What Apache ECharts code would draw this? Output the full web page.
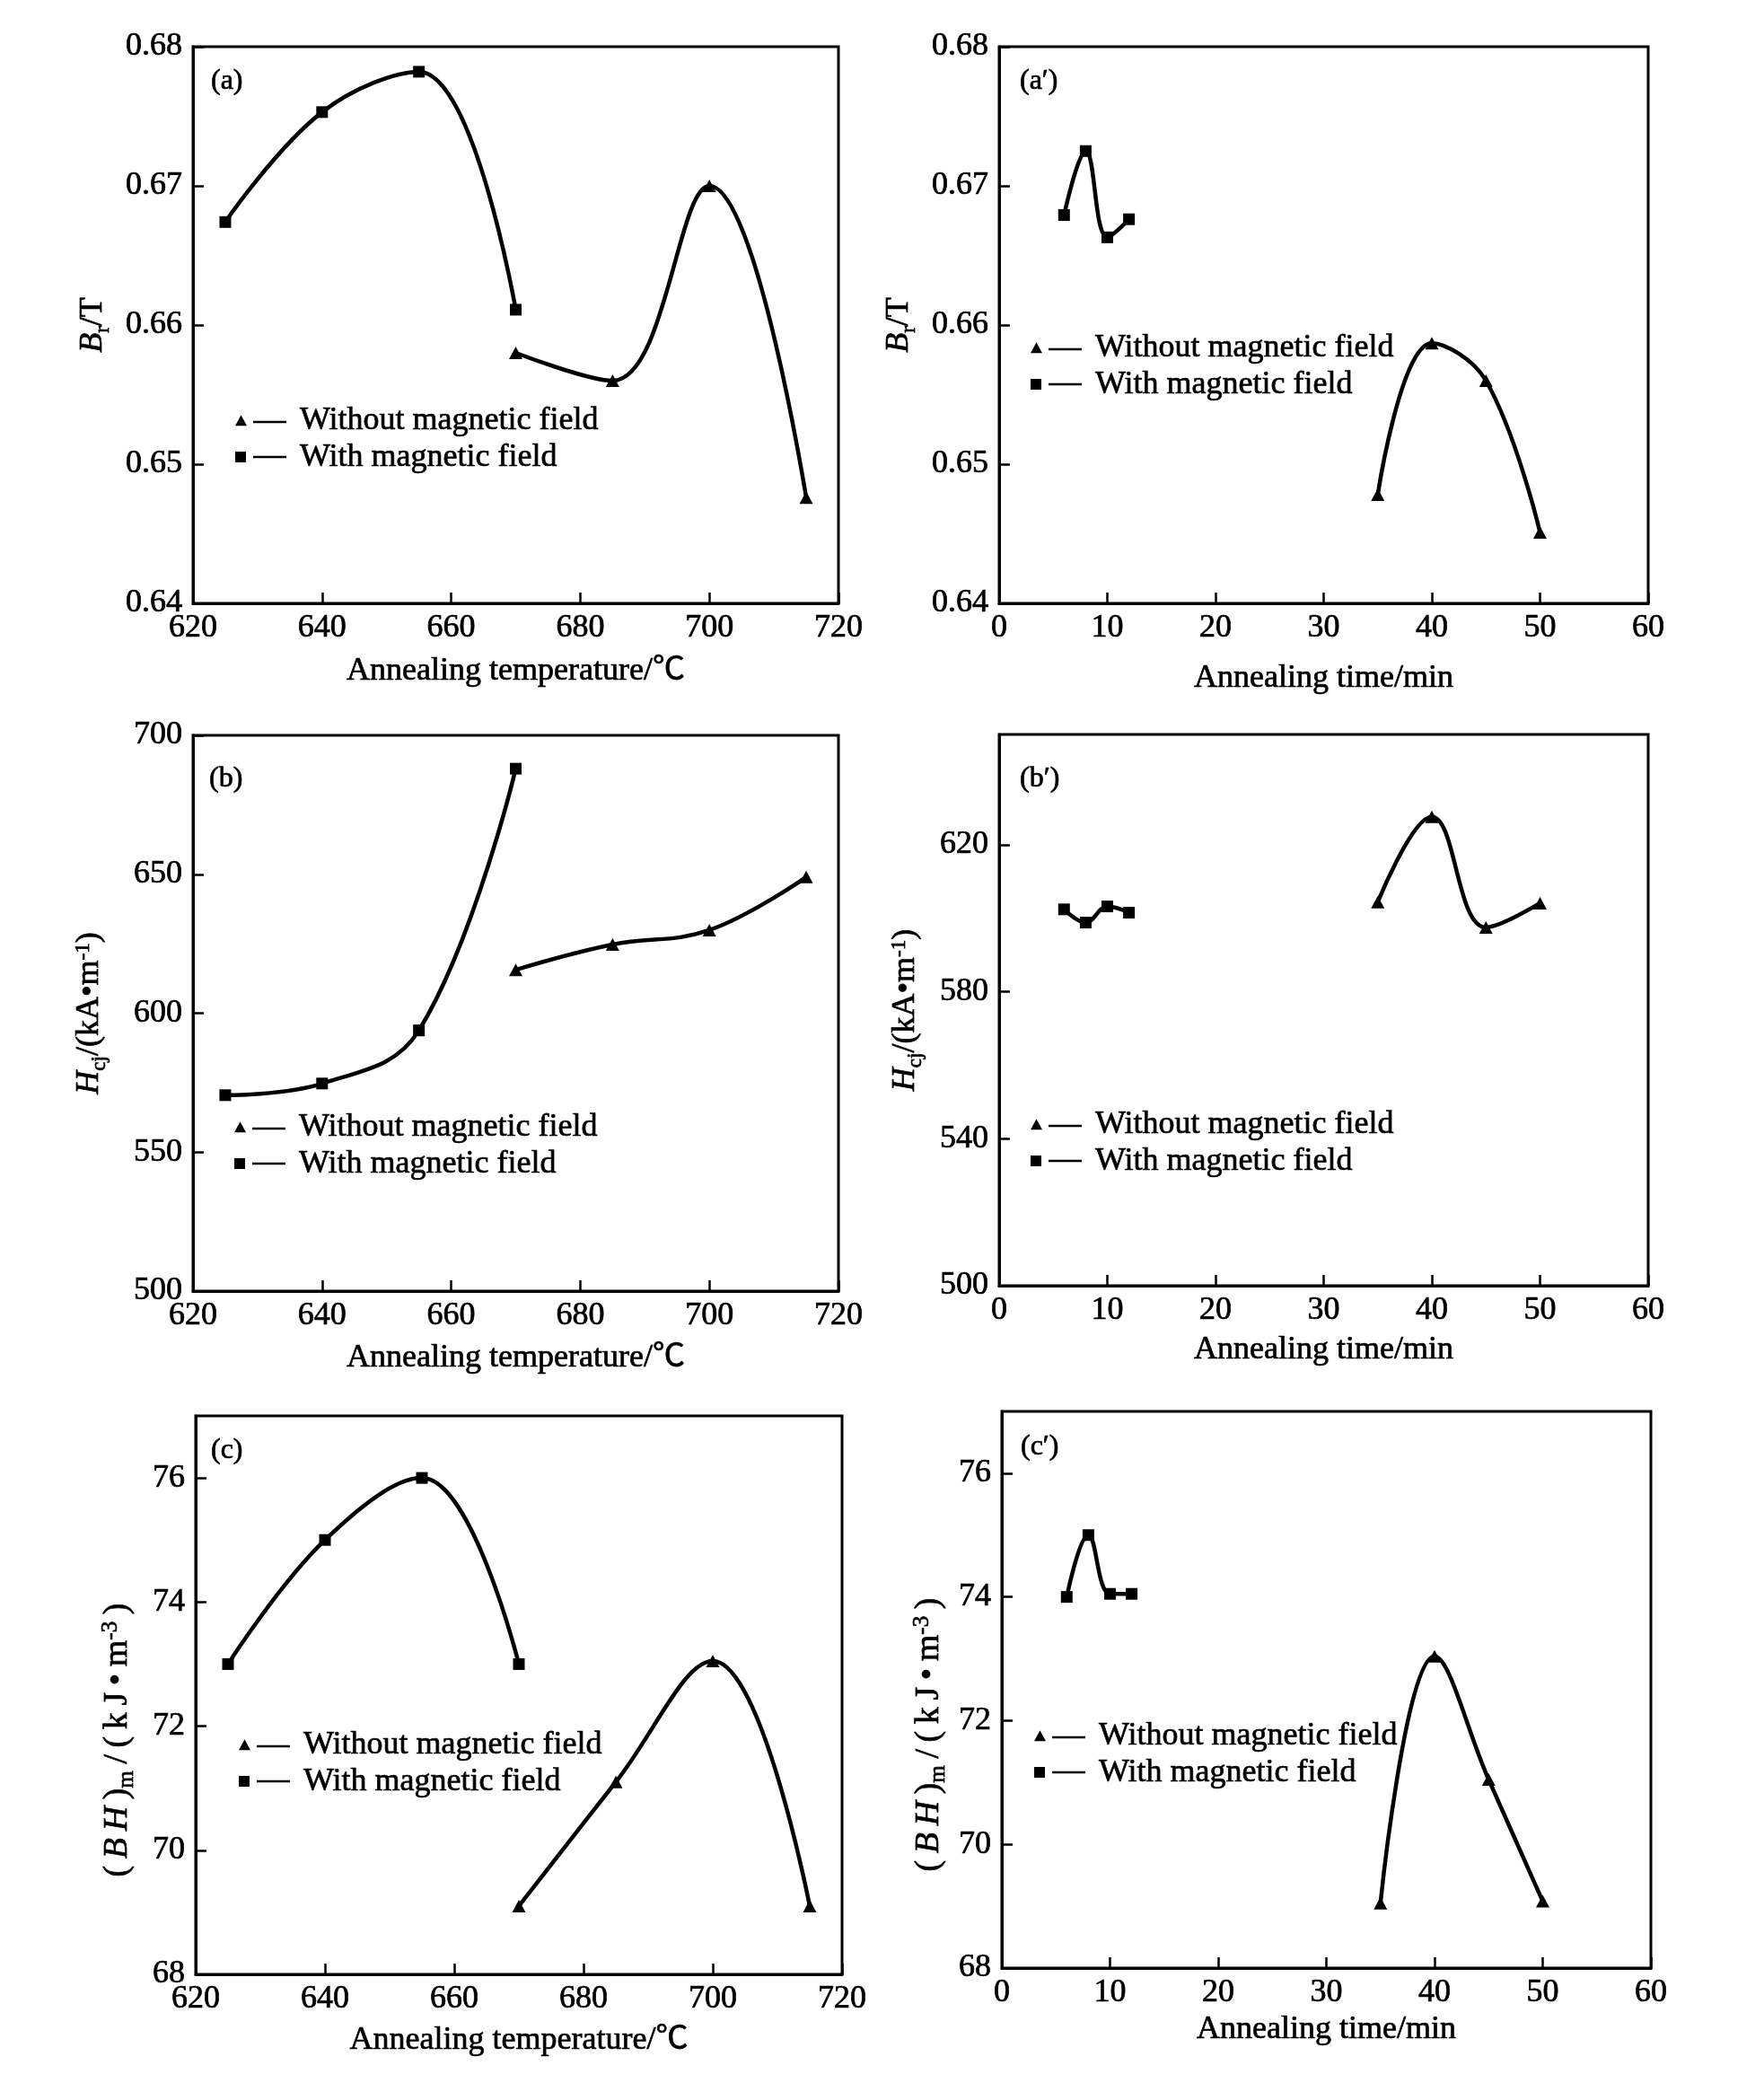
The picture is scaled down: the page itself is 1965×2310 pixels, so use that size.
<!DOCTYPE html>
<html><head><meta charset="utf-8">
<script src="https://cdn.jsdelivr.net/npm/echarts@6/dist/echarts.min.js"></script>
<style>html,body{margin:0;padding:0;background:#fff}#c{width:1965px;height:2310px}</style>
</head><body><div id="c"></div><script>
// ---------- data ----------
const tempWith = [625, 640, 655, 670];
const tempWithout = [670, 685, 700, 715];
const timeWith = [6, 8, 10, 12];
const timeWithout = [35, 40, 45, 50];

const brTempWith = [0.6674, 0.6753, 0.6782, 0.6611];
const brTempWithout = [0.6580, 0.6560, 0.6700, 0.6476];
const brTimeWith = [0.6679, 0.6725, 0.6663, 0.6676];
const brTimeWithout = [0.6478, 0.6587, 0.6560, 0.6451];

const hcjTempWith = [570.5, 574.7, 593.8, 688.0];
const hcjTempWithout = [615.6, 624.7, 629.9, 649.0];
const hcjTimeWith = [602.4, 598.8, 603.2, 601.5];
const hcjTimeWithout = [604.4, 627.6, 597.5, 604.1];

const bhTempWith = [73.0, 75.0, 76.0, 73.0];
const bhTempWithout = [69.1, 71.1, 73.05, 69.1];
const bhTimeWith = [74.0, 75.0, 74.05, 74.05];
const bhTimeWithout = [69.05, 73.04, 71.05, 69.08];

const tempRange = [620, 720, 20];
const timeRange = [0, 60, 10];
const brRange = [0.64, 0.68, 0.01];
const hcjTempRange = [500, 700, 50];
const hcjTimeRange = [500, 650, 40];
const bhRange = [68, 77, 2];

const nameWithout = 'Without magnetic field';
const nameWith = 'With magnetic field';
const panelLabels = ['(a)', '(a\u2032)', '(b)', '(b\u2032)', '(c)', '(c\u2032)'];
const xNameTemp = 'Annealing temperature/\u2103';
const xNameTime = 'Annealing time/min';
const yNameBr = '{i|B}{sub|r}{n|/T}';
const yNameHcj = '{i|H}{sub|cj}{n|/(kA\u2022m}{sup|-1}{n|)}';
const T = '\u2009';
const yNameBh = '{n|(' + T + '}{i|B' + T + 'H}{n|' + T + ')}{sub|m}{n|' + T + '/' + T + '(' + T + 'k' + T + 'J' + T + '\u2022' + T + 'm}{sup|-3}{n|' + T + ')}{pad| }';

// ---------- styling / layout ----------
const FONT = "'Liberation Serif', 'Times New Roman', 'Noto Sans CJK SC', serif";
const FS = 36;
const BOLDEN = {textBorderColor: '#000', textBorderWidth: 0.7};
const pairs = (xs, ys) => xs.map((x, i) => [x, ys[i]]);
function rich(fs) {
  const s = Math.round(fs * 0.65);
  return {
    i: Object.assign({fontStyle: 'italic', fontSize: fs, fontFamily: FONT, color: '#000', lineHeight: fs + 8, verticalAlign: 'middle'}, BOLDEN),
    n: Object.assign({fontSize: fs, fontFamily: FONT, color: '#000', lineHeight: fs + 8, verticalAlign: 'middle'}, BOLDEN),
    sub: Object.assign({fontSize: s, fontFamily: FONT, color: '#000', lineHeight: s, verticalAlign: 'bottom'}, BOLDEN),
    sup: Object.assign({fontSize: s, fontFamily: FONT, color: '#000', lineHeight: s, padding: [3, 0, 0, 0], verticalAlign: 'top'}, BOLDEN),
    pad: {fontSize: fs, width: 100, color: 'rgba(0,0,0,0)', lineHeight: fs + 8, verticalAlign: 'middle'}
  };
}
const triIcon = 'path://M0,12 L6.5,0 L13,12 Z M20,6.5 L57,6.5 L57,9 L20,9 Z';
const sqIcon = 'path://M0,0 L12,0 L12,12 L0,12 Z M20,4.8 L57,4.8 L57,7.2 L20,7.2 Z';

const panels = [
  {grid: [215, 52, 719, 620], xr: tempRange, yr: brRange, fmt: v => v.toFixed(2), yName: yNameBr, yFs: 36, yGap: 89,
   xName: xNameTemp, xGap: 58, lab: [235, 75], leg: [262, 450],
   xw: tempWith, yw: brTempWith, xo: tempWithout, yo: brTempWithout},
  {grid: [1113, 52, 723, 620], xr: timeRange, yr: brRange, fmt: v => v.toFixed(2), yName: yNameBr, yFs: 36, yGap: 89,
   xName: xNameTime, xGap: 66, lab: [1136, 75], leg: [1148, 369],
   xw: timeWith, yw: brTimeWith, xo: timeWithout, yo: brTimeWithout},
  {grid: [215, 819, 719, 619], xr: tempRange, yr: hcjTempRange, fmt: v => String(v), yName: yNameHcj, yFs: 36, yGap: 93,
   xName: xNameTemp, xGap: 57, lab: [233, 852], leg: [261, 1237],
   xw: tempWith, yw: hcjTempWith, xo: tempWithout, yo: hcjTempWithout},
  {grid: [1113, 818, 723, 614], xr: timeRange, yr: hcjTimeRange, fmt: v => String(v), yName: yNameHcj, yFs: 36, yGap: 82,
   xName: xNameTime, xGap: 54, lab: [1136, 852], leg: [1148, 1234],
   xw: timeWith, yw: hcjTimeWith, xo: timeWithout, yo: hcjTimeWithout},
  {grid: [218, 1577, 720, 622], xr: tempRange, yr: bhRange, fmt: v => String(v), yName: yNameBh, yFs: 38, yGap: 64,
   xName: xNameTemp, xGap: 56, lab: [235, 1600], leg: [266, 1925],
   xw: tempWith, yw: bhTempWith, xo: tempWithout, yo: bhTempWithout},
  {grid: [1116, 1572, 723, 620], xr: timeRange, yr: bhRange, fmt: v => String(v), yName: yNameBh, yFs: 38, yGap: 58,
   xName: xNameTime, xGap: 51, lab: [1137, 1596], leg: [1152, 1915],
   xw: timeWith, yw: bhTimeWith, xo: timeWithout, yo: bhTimeWithout}
];

const option = {
  backgroundColor: '#fff',
  animation: false,
  title: [], grid: [], xAxis: [], yAxis: [], legend: [], series: []
};
const axisCommon = {
  axisLine: {show: true, onZero: false, lineStyle: {color: '#000', width: 3}},
  axisTick: {show: true, inside: true, length: 12, lineStyle: {color: '#000', width: 2.5}},
  splitLine: {show: false},
  nameMoveOverlap: false
};
function isWhole(r) { const n = (r[1] - r[0]) / r[2]; return Math.abs(n - Math.round(n)) < 1e-6; }
panels.forEach((p, k) => {
  option.grid.push({left: p.grid[0], top: p.grid[1], width: p.grid[2], height: p.grid[3],
    show: true, borderColor: '#000', borderWidth: 3, outerBoundsMode: 'none', containLabel: false});
  option.xAxis.push(Object.assign({}, axisCommon, {
    type: 'value', gridIndex: k, min: p.xr[0], max: p.xr[1], interval: p.xr[2],
    name: p.xName, nameLocation: 'middle', nameGap: p.xGap,
    nameTextStyle: Object.assign({fontFamily: FONT, fontSize: FS, color: '#000'}, BOLDEN),
    axisLabel: Object.assign({margin: 10, fontFamily: FONT, fontSize: FS, color: '#000'}, BOLDEN)
  }));
  option.yAxis.push(Object.assign({}, axisCommon, {
    type: 'value', gridIndex: k, min: p.yr[0], max: p.yr[1], interval: p.yr[2],
    name: p.yName, nameLocation: 'middle', nameGap: p.yGap,
    nameTextStyle: {fontFamily: FONT, fontSize: p.yFs, color: '#000', rich: rich(p.yFs)},
    axisLabel: Object.assign({margin: 12, fontFamily: FONT, fontSize: FS, color: '#000', formatter: p.fmt, showMaxLabel: isWhole(p.yr)}, BOLDEN)
  }));
  option.title.push({text: panelLabels[k], left: p.lab[0], top: p.lab[1], padding: 0,
    textStyle: Object.assign({fontFamily: FONT, fontSize: 32, fontWeight: 'normal', color: '#000'}, BOLDEN)});
  option.legend.push({
    left: p.leg[0], top: p.leg[1], orient: 'vertical', padding: 0, itemGap: 4,
    itemWidth: 57, itemHeight: 12, selectedMode: false,
    itemStyle: {color: '#000', borderWidth: 0},
    textStyle: Object.assign({fontFamily: FONT, fontSize: FS, color: '#000', lineHeight: 36, padding: [0, 0, 0, 10]}, BOLDEN),
    data: [{name: nameWithout, icon: triIcon}, {name: nameWith, icon: sqIcon}]
  });
  const common = {type: 'line', xAxisIndex: k, yAxisIndex: k, smooth: 0.4,
    lineStyle: {color: '#000', width: 4.5}, itemStyle: {color: '#000', borderWidth: 0}, showSymbol: true};
  option.series.push(Object.assign({}, common, {name: nameWithout, symbol: 'triangle', symbolSize: [15, 14],
    data: pairs(p.xo, p.yo)}));
  option.series.push(Object.assign({}, common, {name: nameWith, symbol: 'rect', symbolSize: 13,
    data: pairs(p.xw, p.yw)}));
});
const chart = echarts.init(document.getElementById('c'), null, {renderer: 'canvas'});
chart.setOption(option);
</script></body></html>
